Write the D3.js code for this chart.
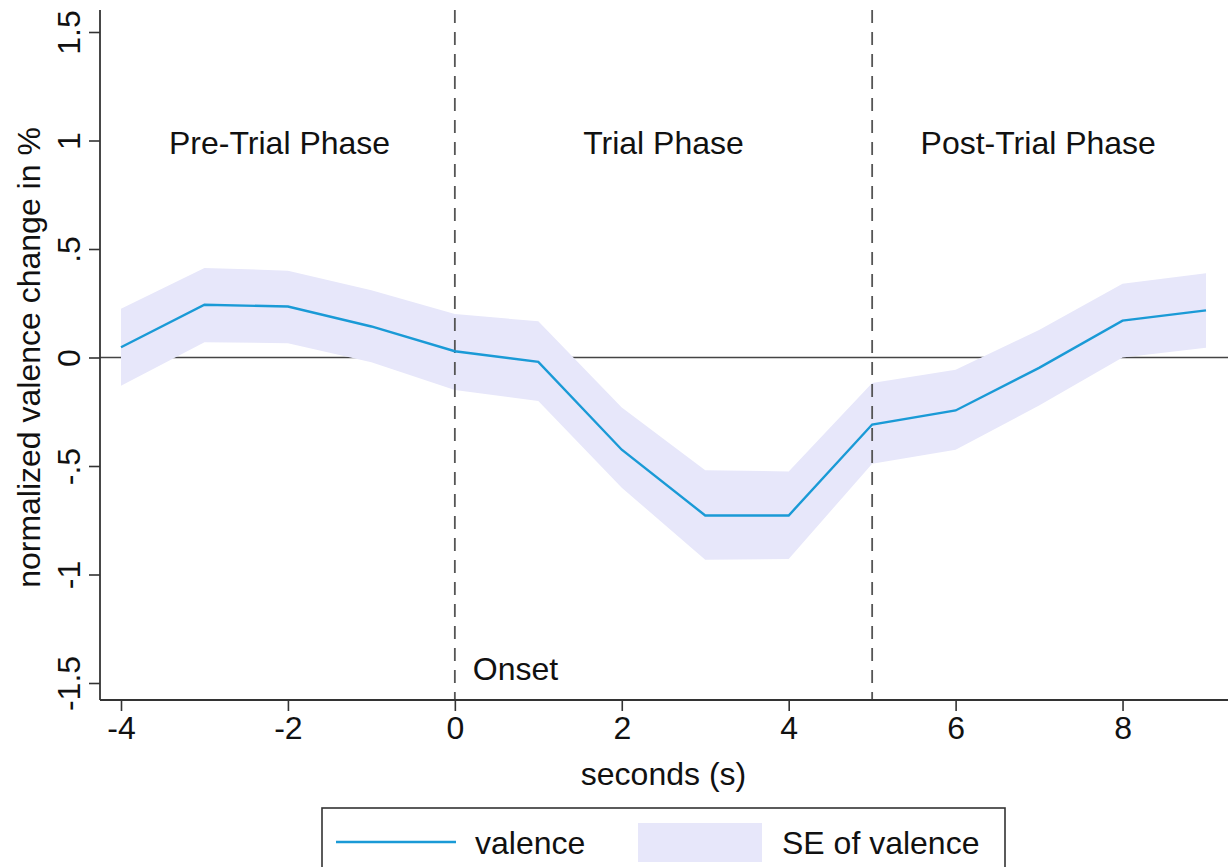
<!DOCTYPE html>
<html>
<head>
<meta charset="utf-8">
<script src="https://cdn.jsdelivr.net/npm/d3@7"></script>
<style>
  body { margin: 0; background: #fff; }
  svg text { font-family: "Liberation Sans", Arial, sans-serif; fill: #111; }
</style>
</head>
<body>
<svg id="chart" width="1229" height="867"></svg>
<script>
// data
const seconds = [-4, -3, -2, -1, 0, 1, 2, 3, 4, 5, 6, 7, 8, 9];
const valence = [0.047, 0.243, 0.235, 0.143, 0.029, -0.02, -0.425, -0.728, -0.728, -0.309, -0.244, -0.048, 0.17, 0.217];
const seUpper = [0.225, 0.413, 0.40, 0.31, 0.20, 0.167, -0.23, -0.52, -0.525, -0.118, -0.057, 0.127, 0.34, 0.388];
const seLower = [-0.13, 0.07, 0.066, -0.022, -0.15, -0.20, -0.60, -0.932, -0.928, -0.49, -0.425, -0.221, 0.0, 0.045];
const xTicks = [-4, -2, 0, 2, 4, 6, 8];
const yTicks = [-1.5, -1, -0.5, 0, 0.5, 1, 1.5];
const yTickLabels = ["-1.5", "-1", "-.5", "0", ".5", "1", "1.5"];
const phaseLines = [0, 5];
const phases = [
  { label: "Pre-Trial Phase", x: -2.1 },
  { label: "Trial Phase", x: 2.5 },
  { label: "Post-Trial Phase", x: 6.99 }
];

const lineColor = "#1a9ad6";
const bandColor = "#e7e7fa";
const fontSize = 32;

const svg = d3.select("#chart");

const plotLeft = 100, plotRight = 1228, plotTop = 10, plotBottom = 700;

const x = d3.scaleLinear().domain([-4, 9]).range([121, 1206]);
const y = d3.scaleLinear().domain([-1.5, 1.5]).range([683, 32]);

const pts = seconds.map((s, i) => ({ s, v: valence[i], hi: seUpper[i], lo: seLower[i] }));

// zero reference line
svg.append("line")
  .attr("x1", plotLeft).attr("x2", plotRight)
  .attr("y1", y(0)).attr("y2", y(0))
  .attr("stroke", "#444").attr("stroke-width", 1.6);

// SE band
svg.append("path")
  .datum(pts)
  .attr("d", d3.area().x(d => x(d.s)).y0(d => y(d.lo)).y1(d => y(d.hi)))
  .attr("fill", bandColor);

// phase separators
svg.append("g")
  .selectAll("line")
  .data(phaseLines)
  .enter()
  .append("line")
  .attr("x1", d => x(d)).attr("x2", d => x(d))
  .attr("y1", plotTop).attr("y2", plotBottom)
  .attr("stroke", "#555")
  .attr("stroke-width", 1.8)
  .attr("stroke-dasharray", "13,9");

// valence line
svg.append("path")
  .datum(pts)
  .attr("d", d3.line().x(d => x(d.s)).y(d => y(d.v)))
  .attr("fill", "none")
  .attr("stroke", lineColor)
  .attr("stroke-width", 2.4);

// axes
const xAxis = svg.append("g")
  .attr("transform", `translate(0,${plotBottom})`)
  .call(d3.axisBottom(x).tickValues(xTicks).tickSize(11).tickPadding(5).tickFormat(d => String(d)));
xAxis.select(".domain").attr("d", `M${plotLeft},0H${plotRight}`).attr("stroke", "#333").attr("stroke-width", 1.8);
xAxis.selectAll(".tick line").attr("stroke", "#333").attr("stroke-width", 1.6);
xAxis.selectAll(".tick text").attr("font-size", fontSize).style("font-family", "Liberation Sans, Arial, sans-serif").attr("fill", "#111");

const yAxis = svg.append("g")
  .attr("transform", `translate(${plotLeft},0)`)
  .call(d3.axisLeft(y).tickValues(yTicks).tickSize(11).tickFormat((d, i) => yTickLabels[i]));
yAxis.select(".domain").attr("d", `M0,${plotTop}V${plotBottom}`).attr("stroke", "#333").attr("stroke-width", 1.8);
yAxis.selectAll(".tick line").attr("stroke", "#333").attr("stroke-width", 1.6);
yAxis.selectAll(".tick text")
  .attr("x", null).attr("dy", null)
  .attr("transform", "translate(-31,0) rotate(-90)")
  .attr("text-anchor", "middle")
  .attr("dy", "0.35em")
  .attr("font-size", fontSize)
  .style("font-family", "Liberation Sans, Arial, sans-serif")
  .attr("fill", "#111");

// axis titles
svg.append("text")
  .attr("transform", `translate(40,${y(0)}) rotate(-90)`)
  .attr("text-anchor", "middle")
  .attr("font-size", fontSize)
  .text("normalized valence change in %");

svg.append("text")
  .attr("x", x(2.5)).attr("y", 785)
  .attr("text-anchor", "middle")
  .attr("font-size", fontSize)
  .text("seconds (s)");

// phase labels
svg.append("g")
  .selectAll("text")
  .data(phases)
  .enter()
  .append("text")
  .attr("x", d => x(d.x))
  .attr("y", y(1) + 13)
  .attr("text-anchor", "middle")
  .attr("font-size", fontSize)
  .text(d => d.label);

svg.append("text")
  .attr("x", x(0) + 18).attr("y", y(-1.5) - 3)
  .attr("font-size", fontSize)
  .text("Onset");

// legend
const legend = svg.append("g");
legend.append("rect")
  .attr("x", 322).attr("y", 808).attr("width", 683).attr("height", 80)
  .attr("fill", "#fff").attr("stroke", "#333").attr("stroke-width", 1.6);
legend.append("line")
  .attr("x1", 336).attr("x2", 456).attr("y1", 842).attr("y2", 842)
  .attr("stroke", lineColor).attr("stroke-width", 2.4);
legend.append("text")
  .attr("x", 475).attr("y", 854).attr("font-size", fontSize).text("valence");
legend.append("rect")
  .attr("x", 638).attr("y", 823).attr("width", 124).attr("height", 39)
  .attr("fill", bandColor);
legend.append("text")
  .attr("x", 782).attr("y", 854).attr("font-size", fontSize).text("SE of valence");
</script>
</body>
</html>
